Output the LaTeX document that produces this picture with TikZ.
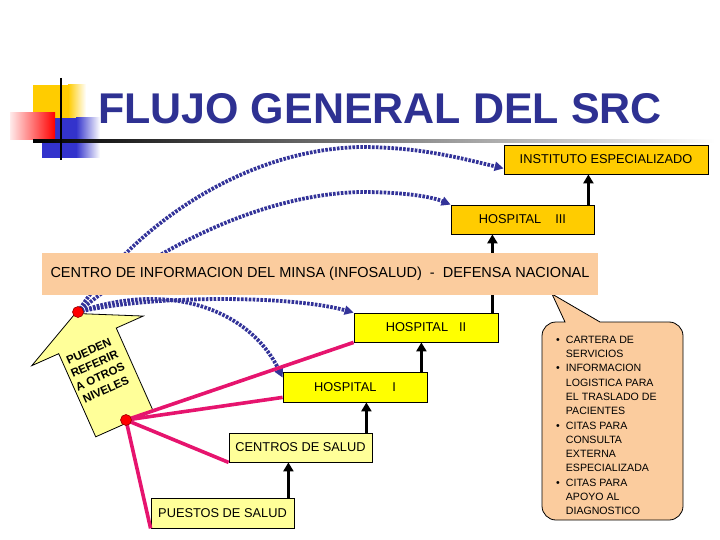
\documentclass[tikz,border=0pt]{standalone}
\usepackage{fontspec}
\setmainfont{Liberation Sans}
\usepackage{tikz}
\usetikzlibrary{arrows.meta,calc}

\definecolor{titleblue}{RGB}{46,49,146}
\definecolor{dotblue}{RGB}{51,51,153}
\definecolor{linkpink}{RGB}{230,20,110}
\definecolor{boxgold}{RGB}{255,204,0}
\definecolor{boxyellow}{RGB}{255,255,0}
\definecolor{boxpale}{RGB}{255,255,153}
\definecolor{boxpeach}{RGB}{251,204,158}
\definecolor{sqblue}{RGB}{51,51,204}

\begin{document}
\begin{tikzpicture}[x=1pt,y=-1pt,
        box/.style={draw=black,line width=0.8pt,inner sep=0pt,minimum width=143pt,
            minimum height=29pt,font=\fontsize{12.8}{15}\selectfont},
        goldbox/.style={box,fill=boxgold},
        yellowbox/.style={box,fill=boxyellow},
        palebox/.style={box,fill=boxpale},
        uparrow/.style={line width=3.2pt,-{Triangle[length=9pt,width=10pt]}},
        referral/.style={dotblue,line width=3.8pt,dash pattern=on 2.6pt off 1.3pt,
            -{Triangle[length=9pt,width=9pt]}},
        spoke/.style={linkpink,line width=3.6pt},
        reddot/.style={circle,fill=red,draw=red!60!black,line width=0.6pt,
            minimum size=11pt,inner sep=0pt}]

        \useasboundingbox (0,0) rectangle (720,540);

        \fill[boxgold] (33,85) rectangle (68,118);
        \shade[left color=boxgold,right color=white] (68,85) rectangle (86,118);
        \fill[sqblue] (42,118) rectangle (76,158);
        \shade[left color=sqblue,right color=white] (76,118) rectangle (100,158);
        \shade[left color=red!8,right color=red] (10,113) rectangle (55,140);
        \shade[left color=black,right color=white] (33,140) rectangle (715,142.5);
        \draw[line width=2.5pt] (61,78) -- (61,160);
        \node[font=\fontsize{43}{48}\selectfont\bfseries,text=titleblue,inner sep=0pt] (T) at (380,109)
                {FLUJO GENERAL DEL SRC};

        \begin{scope}[shift={(124.5,424)},rotate=24]
                \draw[fill=boxpale,line width=0.8pt] (-31.5,0) -- (31.5,0) -- (31.5,-91) -- (61,-91)
                        -- (0,-121) -- (-61,-91) -- (-31.5,-91) -- cycle;
                \node[rotate=24,align=center,font=\fontsize{11.5}{14}\selectfont\bfseries] (NOTE) at (-3,-60)
                        {PUEDEN\\REFERIR\\A OTROS\\NIVELES};
        \end{scope}

        \node[goldbox,minimum width=204pt] (IE) at (606,159.5) {INSTITUTO ESPECIALIZADO};
        \node[goldbox] (H_3) at (522.5,219.5) {HOSPITAL\hspace{14pt}III};
        \node[yellowbox,minimum width=144pt] (H_2) at (426,327.5) {HOSPITAL\hspace{11pt}II};
        \node[yellowbox,minimum width=144pt,minimum height=30pt] (H_1) at (355,387) {HOSPITAL\hspace{16pt}I};
        \node[palebox] (CS) at (300.5,447.5) {CENTROS DE SALUD};
        \node[palebox,minimum height=30pt] (PS) at (222.5,513) {PUESTOS DE SALUD};

        \coordinate (D_1) at (78,312);
        \coordinate (D_2) at (126,420);

        \foreach \lo/\hi in {H_3/IE,H_2/H_3,H_1/H_2,CS/H_1,PS/CS}
                \draw[uparrow] ($(\lo.north east)+(-6,0)$) coordinate (a) -- (a |- \hi.south);

        \draw[referral] (D_1) .. controls (130,230) and (240,150) .. (360,147)
                .. controls (420,147) and (460,158) .. ($(IE.south west)+(0,-6)$);
        \draw[referral] (D_1) .. controls (140,260) and (250,195) .. (360,192)
                .. controls (400,192) and (430,196) .. (H_3.north west);
        \draw[referral] (D_1) .. controls (150,295) and (290,295) .. (H_2.north west);
        \draw[referral] (D_1) .. controls (170,280) and (250,310) .. ($(H_1.north west)+(0,6)$);

        \draw[fill=boxpeach,line width=0.8pt] (565,322) -- (552,294) -- (600,322)
                {[rounded corners=14pt] -- (683,322) -- (683,520) -- (542,520) -- (542,322)} -- cycle;
        \node[anchor=north west,inner sep=0pt,font=\fontsize{10.6}{14.3}\selectfont] (LIST) at (556,333) {%
                \begin{tabular}{@{}l@{\hspace{6pt}}l@{}}
                        \textbullet & CARTERA DE\\ & SERVICIOS\\
                        \textbullet & INFORMACION\\ & LOGISTICA PARA\\ & EL TRASLADO DE\\ & PACIENTES\\
                        \textbullet & CITAS PARA\\ & CONSULTA\\ & EXTERNA\\ & ESPECIALIZADA\\
                        \textbullet & CITAS PARA\\ & APOYO AL\\ & DIAGNOSTICO
                \end{tabular}};

        \node[fill=boxpeach,minimum width=556pt,minimum height=42pt,inner sep=0pt,
                font=\fontsize{14.5}{16}\selectfont] (INFO) at (320,274)
                {CENTRO DE INFORMACION DEL MINSA (INFOSALUD)\ \ -\ \ DEFENSA NACIONAL};

        \foreach \t in {H_2.south west,CS.south west,PS.south west}
                \draw[spoke] (D_2) -- (\t);
        \draw[spoke] (D_2) -- ($(H_1.south west)+(0,-5)$);

        \node[reddot] (R_1) at (D_1) {};
        \node[reddot] (R_2) at (D_2) {};
\end{tikzpicture}
\end{document}
